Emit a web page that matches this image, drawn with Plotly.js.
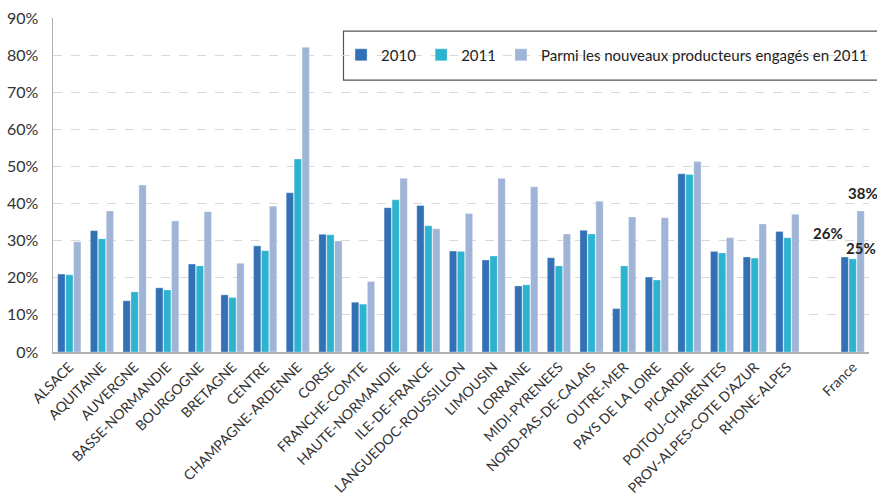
<!DOCTYPE html>
<html><head><meta charset="utf-8">
<script src="https://cdn.plot.ly/plotly-3.0.1.min.js"></script>
<style>html,body{margin:0;padding:0;background:#fff}#chart{width:877px;height:502px}</style>
</head><body><div id="chart"></div>
<script>
const categories = ["ALSACE","AQUITAINE","AUVERGNE","BASSE-NORMANDIE","BOURGOGNE","BRETAGNE","CENTRE","CHAMPAGNE-ARDENNE","CORSE","FRANCHE-COMTE","HAUTE-NORMANDIE","ILE-DE-FRANCE","LANGUEDOC-ROUSSILLON","LIMOUSIN","LORRAINE","MIDI-PYRENEES","NORD-PAS-DE-CALAIS","OUTRE-MER","PAYS DE LA LOIRE","PICARDIE","POITOU-CHARENTES","PROV-ALPES-COTE D'AZUR","RHONE-ALPES"," ","France"];
const values2010 = [21.0,32.7,13.8,17.3,23.7,15.4,28.6,42.9,31.7,13.4,38.9,39.5,27.2,24.8,17.8,25.4,32.8,11.7,20.2,48.0,27.1,25.6,32.5,null,25.6];
const values2011 = [20.8,30.5,16.2,16.7,23.2,14.7,27.3,52.0,31.6,12.9,41.0,34.0,27.1,25.9,18.1,23.2,31.8,23.2,19.4,47.8,26.7,25.3,30.8,null,25.1];
const valuesNew  = [29.7,38.0,45.0,35.3,37.8,23.9,39.3,82.1,29.9,19.0,46.8,33.2,37.3,46.8,44.5,31.8,40.6,36.4,36.2,51.3,30.8,34.5,37.1,null,38.0];
const seriesNames = ["2010","2011","Parmi les nouveaux producteurs engagés en 2011"];
const yTicks = [0,10,20,30,40,50,60,70,80,90];

const colors = ["#3371b6","#2db3cf","#9fb4d6"];
const font = "Lato, 'Open Sans', sans-serif";
const series = [values2010, values2011, valuesNew];
const traces = series.map((v,i)=>({
  type:'bar', x:categories, y:v, name:seriesNames[i],
  marker:{color:colors[i], line:{color:'rgba(255,255,255,0.5)', width:0.6}},
  hoverinfo:'skip'
}));
const fi = categories.indexOf("France");
const ann = [
  {x:"France", y:values2010[fi], xshift:-25, yshift:24, text:Math.round(values2010[fi])+"%"},
  {x:"France", y:values2011[fi], xshift:8, yshift:11, text:Math.round(values2011[fi])+"%"},
  {x:"France", y:valuesNew[fi], xshift:10, yshift:18, text:Math.round(valuesNew[fi])+"%"}
].map(a=>Object.assign(a,{xref:'x',yref:'y',showarrow:false,font:{family:font,size:15,color:'#222',weight:'bold'}}));
const layout = {
  width:877, height:502,
  margin:{l:53,r:8,t:18,b:150,autoexpand:false},
  paper_bgcolor:'#fff', plot_bgcolor:'#fff',
  barmode:'group', bargap:0.27, bargroupgap:0.08,
  font:{family:font, color:'#333'},
  showlegend:true,
  legend:{orientation:'h', x:0.353, y:0.889, xanchor:'left', yanchor:'middle',
    borderwidth:0, bgcolor:'rgba(0,0,0,0)',
    font:{family:font,size:15,color:'#222'}, itemwidth:30},
  shapes:[{type:'rect', xref:'paper', yref:'paper', x0:0.356, x1:1.02, y0:0.814, y1:0.961,
    line:{color:'#555', width:1.2}, fillcolor:'#fff', layer:'below'}],
  xaxis:{type:'category', categoryorder:'array', categoryarray:categories,
    range:[-0.5, categories.length-0.5], autorange:false,
    tickangle:-45, tickfont:{family:font,size:14,color:'#333'},
    showline:true, linecolor:'#b0b0b0', linewidth:1.5, ticks:'', showgrid:false, automargin:false},
  yaxis:{range:[0,90], autorange:false, tickvals:yTicks, ticktext:yTicks.map(t=>t+'%'),
    tickfont:{family:font,size:16,color:'#333'}, ticklabelstandoff:10,
    showline:true, linecolor:'#b0b0b0', linewidth:1.5,
    showgrid:true, gridcolor:'#d9d9d9', griddash:'dash', gridwidth:1,
    zeroline:false, ticks:'', automargin:false},
  annotations:ann
};
Plotly.newPlot('chart', traces, layout, {displayModeBar:false, staticPlot:true});
</script></body></html>
